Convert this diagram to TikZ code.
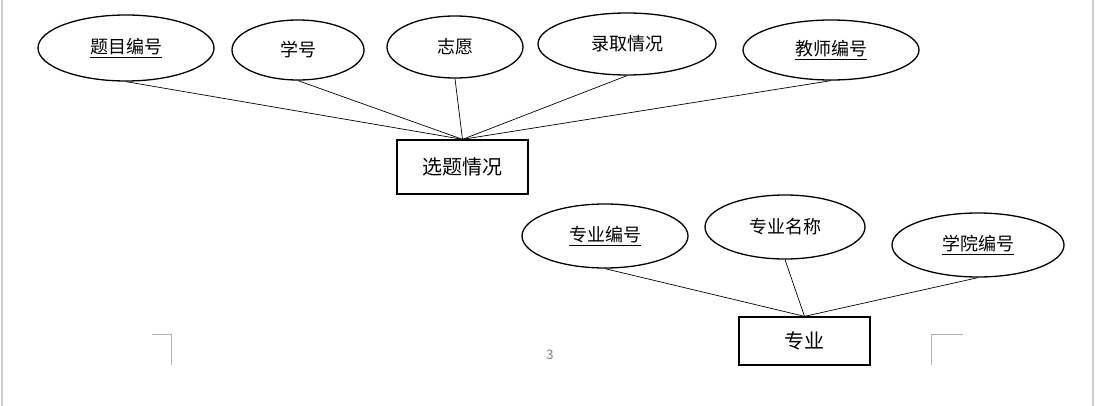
\documentclass[tikz,border=0pt]{standalone}
\usepackage{fontspec}
\setmainfont{Noto Sans CJK SC}
\usetikzlibrary{shapes.geometric}
\begin{document}
\begin{tikzpicture}[x=1pt,y=-1pt,
  attr/.style={draw,line width=1.3pt,ellipse,inner sep=0pt,font=\fontsize{18}{21}\selectfont},
  ent/.style={draw,line width=1.3pt,rectangle,inner sep=0pt,font=\fontsize{20}{23}\selectfont},
  lk/.style={line width=0.7pt},
  cornermark/.style={draw=gray!60,line width=0.8pt}]
\useasboundingbox (0,0) rectangle (1100,406);
\draw[gray!40,line width=1.5pt] (2,0)--(2,406) (1093,0)--(1093,406);
\node[attr,minimum width=176,minimum height=66] (a1) at (126,48) {\underline{题目编号}};
\node[attr,minimum width=132,minimum height=60] (a2) at (298,50) {学号};
\node[attr,minimum width=136,minimum height=62] (a3) at (455,47) {志愿};
\node[attr,minimum width=178,minimum height=62] (a4) at (627,44) {录取情况};
\node[attr,minimum width=176,minimum height=60] (a5) at (831,50) {\underline{教师编号}};
\node[ent,minimum width=131,minimum height=54] (e1) at (462.5,167) {选题情况};
\foreach \a in {a1,a2,a3,a4,a5} \draw[lk] (\a.south) -- (e1.north);
\node[attr,minimum width=166,minimum height=64] (b1) at (605,236) {\underline{专业编号}};
\node[attr,minimum width=160,minimum height=64] (b2) at (785,227) {专业名称};
\node[attr,minimum width=172,minimum height=64] (b3) at (978,245) {\underline{学院编号}};
\node[ent,minimum width=131,minimum height=48] (e2) at (804.5,341) {专业};
\foreach \a in {b1,b2,b3} \draw[lk] (\a.south) -- (e2.north);
\draw[cornermark] (152,334)--(171,334)--(171,365);
\draw[cornermark] (931,365)--(931,334)--(963,334);
\node[text=gray,font=\fontsize{13}{14}\selectfont] (pg) at (550,355) {3};
\end{tikzpicture}
\end{document}
